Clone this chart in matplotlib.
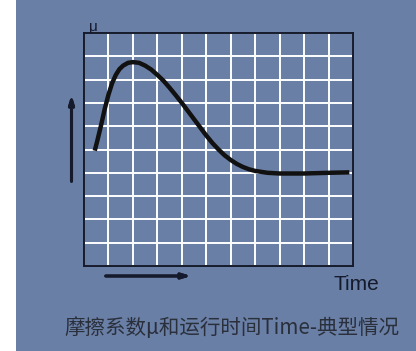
import numpy as np
import matplotlib.pyplot as plt
from matplotlib.patches import Rectangle

# 曲线数据（网格单位：横向 11 格，纵向 10 格）
t = [0.44, 0.55, 0.7, 0.85, 1.0, 1.15, 1.3, 1.45, 1.6, 1.8, 2.0, 2.25, 2.5,
     2.75, 3.0, 3.25, 3.5, 3.75, 4.0, 4.25, 4.5, 4.75, 5.0, 5.25, 5.5, 5.75,
     6.0, 6.25, 6.5, 6.75, 7.0, 7.5, 8.0, 9.0, 10.0, 10.85]
mu = [4.95, 5.4, 6.05, 6.75, 7.35, 7.85, 8.2, 8.45, 8.6, 8.72, 8.75, 8.72, 8.6,
      8.43, 8.2, 7.95, 7.65, 7.33, 7.0, 6.65, 6.3, 5.95, 5.6, 5.28, 5.0, 4.75,
      4.55, 4.38, 4.25, 4.15, 4.08, 4.0, 3.97, 3.97, 4.0, 4.02]
caption = '摩擦系数μ和运行时间Time-典型情况'

W, H = 416, 351
bg = '#6a7fa5'
dark = '#151a2c'

fig = plt.figure(figsize=(W / 100, H / 100), dpi=100)
fig.patch.set_facecolor(bg)
# 左侧白边
fig.patches.append(Rectangle((0, 0), 16 / W, 1, transform=fig.transFigure,
                             facecolor='white', edgecolor='none', zorder=-1))

def fx(px):
    return px / W

def fy(py):
    return 1 - py / H

ax = fig.add_axes([fx(84), fy(266), (353 - 84) / W, (266 - 33) / H])
ax.set_facecolor(bg)
ax.set_xlim(0, 11)
ax.set_ylim(0, 10)
ax.set_xticks(np.arange(0, 12, 1))
ax.set_yticks(np.arange(0, 11, 1))
ax.grid(True, color='white', linewidth=1.4)
ax.tick_params(length=0, labelbottom=False, labelleft=False)
for s in ax.spines.values():
    s.set_color(dark)
    s.set_linewidth(1.4)
    s.set_zorder(3)

ax.plot(t, mu, color='#111111', linewidth=3.2, solid_capstyle='butt',
        solid_joinstyle='round', zorder=4)

# 箭头
arrow = dict(arrowstyle='-|>,head_length=0.5,head_width=0.15', color=dark, linewidth=2.2)
fig.add_artist(plt.annotate('', xy=(fx(71.5), fy(92)), xytext=(fx(71.5), fy(184)),
                            xycoords='figure fraction', textcoords='figure fraction',
                            arrowprops=arrow))
fig.add_artist(plt.annotate('', xy=(fx(194), fy(276)), xytext=(fx(103), fy(276)),
                            xycoords='figure fraction', textcoords='figure fraction',
                            arrowprops=arrow))

fig.text(fx(89), fy(34), 'μ', fontsize=11, color=dark, family='Liberation Sans',
         ha='left', va='bottom')
fig.text(fx(334), fy(284), 'Time', fontsize=15, color=dark, family='Liberation Sans',
         ha='left', va='center')
fig.text(fx(232), fy(328), caption, fontsize=14.8, color='#2a2f3c',
         family=['Noto Sans CJK SC', 'DejaVu Sans'], ha='center', va='center')

fig.savefig('out.png', dpi=100, facecolor=bg)
